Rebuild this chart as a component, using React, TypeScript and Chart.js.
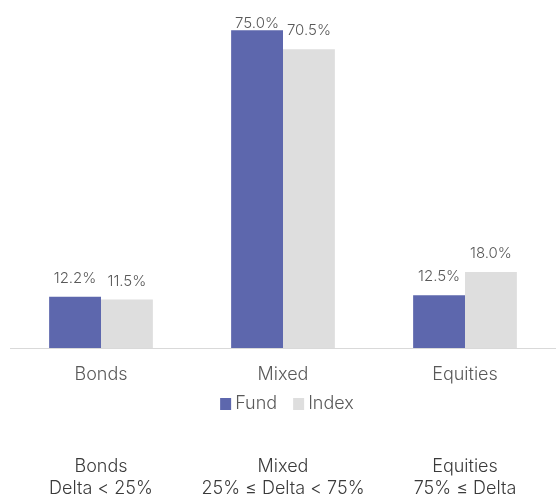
import React, { useEffect, useRef } from "react";
import { Chart, registerables } from "chart.js";

Chart.register(...registerables);

const categories = ["Bonds", "Mixed", "Equities"];
const seriesNames = ["Fund", "Index"];
const fundValues = [12.2, 75.0, 12.5];
const indexValues = [11.5, 70.5, 18.0];
const seriesColors = ["#5d67ad", "#dedede"];
const bandTitles = ["Bonds", "Mixed", "Equities"];
const bandRanges = ["Delta < 25%", "25% ≤ Delta < 75%", "75% ≤ Delta"];
const yMin = 0;
const yMax = 80;

const FONT = "Inter, 'Open Sans', sans-serif";
const LABEL_COLOR = "#595959";
const BAND_COLOR = "#3a3a3a";

const overlayPlugin = {
  id: "overlay",
  afterDatasetsDraw(chart: any) {
    const ctx = chart.ctx;
    ctx.save();
    const area = chart.chartArea;
    ctx.strokeStyle = "#d9d9d9";
    ctx.lineWidth = 1;
    ctx.beginPath();
    ctx.moveTo(area.left, Math.round(area.bottom) + 0.5);
    ctx.lineTo(chart.width, Math.round(area.bottom) + 0.5);
    ctx.stroke();
    ctx.font = `300 15px ${FONT}`;
    ctx.fillStyle = LABEL_COLOR;
    ctx.textAlign = "center";
    ctx.textBaseline = "alphabetic";
    chart.data.datasets.forEach((ds: any, di: number) => {
      const meta = chart.getDatasetMeta(di);
      meta.data.forEach((bar: any, i: number) => {
        const v = ds.data[i] as number;
        const y = Math.max(bar.y - 14, 28);
        ctx.fillText(v.toFixed(1) + "%", bar.x, y);
      });
    });
    ctx.restore();
  },
  afterDraw(chart: any) {
    const ctx = chart.ctx;
    const area = chart.chartArea;
    ctx.save();
    ctx.font = `300 18px ${FONT}`;
    ctx.textBaseline = "middle";
    ctx.textAlign = "left";
    const box = 11;
    const gap = 4;
    const itemGap = 16;
    const items = chart.data.datasets.map((ds: any) => ({
      label: ds.label,
      color: ds.backgroundColor,
      w: box + gap + ctx.measureText(ds.label).width,
    }));
    const total = items.reduce((s: number, it: any) => s + it.w, 0) + itemGap * (items.length - 1);
    let x = (area.left + area.right) / 2 - total / 2 + 4;
    const ly = 404;
    items.forEach((it: any) => {
      ctx.fillStyle = it.color;
      ctx.fillRect(x, ly - 6, box, 12);
      ctx.fillStyle = LABEL_COLOR;
      ctx.fillText(it.label, x + box + gap, ly);
      x += it.w + itemGap;
    });
    ctx.textAlign = "center";
    ctx.fillStyle = BAND_COLOR;
    const xs = chart.scales.x;
    bandTitles.forEach((t, i) => {
      const cx = xs.getPixelForValue(i);
      ctx.fillText(t, cx, 467);
      ctx.fillText(bandRanges[i], cx, 489);
    });
    ctx.restore();
  },
};

export default function App() {
  const ref = useRef<HTMLCanvasElement | null>(null);
  useEffect(() => {
    if (!ref.current) return;
    const chart = new Chart(ref.current, {
      type: "bar",
      data: {
        labels: categories,
        datasets: [
          { label: seriesNames[0], data: fundValues, backgroundColor: seriesColors[0] },
          { label: seriesNames[1], data: indexValues, backgroundColor: seriesColors[1] },
        ],
      },
      options: {
        responsive: false,
        animation: false,
        layout: { padding: { left: 10, right: 0, top: 9, bottom: 97 } },
        datasets: {
          bar: { categoryPercentage: 0.57, barPercentage: 1.0 },
        },
        plugins: {
          legend: { display: false },
          tooltip: { enabled: false },
        },
        scales: {
          x: {
            grid: { display: false, drawTicks: false },
            border: { display: false },
            ticks: {
              color: LABEL_COLOR,
              font: { family: FONT, size: 18, weight: "300" },
              padding: 15,
            },
          },
          y: {
            display: false,
            min: yMin,
            max: yMax,
          },
        },
      },
      plugins: [overlayPlugin],
    });
    return () => chart.destroy();
  }, []);
  return (
    <div style={{ position: "absolute", left: 0, top: 0, width: 556, height: 497, background: "#fff" }}>
      <canvas ref={ref} width={556} height={497} style={{ display: "block" }} />
    </div>
  );
}
